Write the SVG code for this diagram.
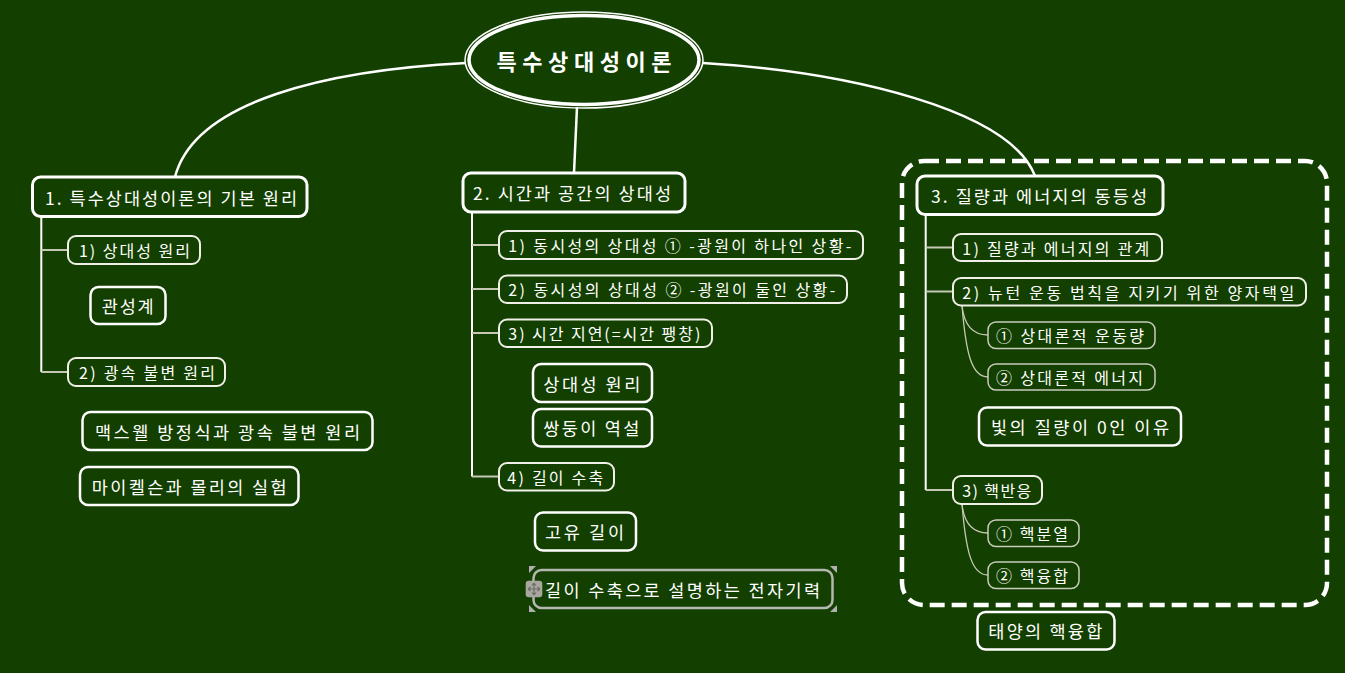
<svg xmlns="http://www.w3.org/2000/svg" width="1345" height="673" viewBox="0 0 1345 673">
<style>
text{font-family:"Noto Sans CJK KR","Noto Sans",sans-serif;fill:#ffffff;dominant-baseline:central}
.t17{font-size:17.5px}
.t15{font-size:16px}
.main{fill:none;stroke:#ffffff;stroke-width:3}
.sub{fill:none;stroke:#f0f0e8;stroke-width:2}
.leaf{fill:none;stroke:#ffffff;stroke-width:2.5}
.item{fill:none;stroke:#c8ccbc;stroke-width:1.5}
.vline{fill:none;stroke:#ffffff;stroke-width:2}
.hline{fill:none;stroke:#c4c8b4;stroke-width:2}
.curve{fill:none;stroke:#c4c8b4;stroke-width:1.3}
.trunk{fill:none;stroke:#ffffff;stroke-width:2.5}
</style>
<rect x="0" y="0" width="1345" height="673" fill="#133f00"/>

<g id="connectors">
<path class="trunk" d="M466,63 C330,70 195,100 175,177"/>
<path class="trunk" d="M577,107 L574,173"/>
<path class="trunk" d="M703,63 C850,72 1010,110 1035,176"/>
<path class="vline" d="M41.3,216 V372"/>
<path class="hline" d="M41.3,250 H68 M41.3,372 H68"/>
<path class="vline" d="M472,212 V476.5"/>
<path class="hline" d="M472,245 H499 M472,289 H499 M472,333 H499 M472,476.5 H499"/>
<path class="vline" d="M925.7,214 V490"/>
<path class="hline" d="M925.7,247.5 H953 M925.7,291.5 H953 M925.7,490 H953"/>
<path class="curve" d="M962,305.5 C964,325 972,335 988,335"/>
<path class="curve" d="M962,305.5 C966,355 972,377 988,377"/>
<path class="curve" d="M962,504 C964,523 972,533 988,533"/>
<path class="curve" d="M962,504 C966,553 972,575 988,575"/>
</g>

<g id="boundary">
<rect x="902" y="161" width="425" height="444" rx="22" fill="none" stroke="#ffffff" stroke-width="4.5" stroke-dasharray="15 7"/>
</g>

<g id="root">
<ellipse cx="584" cy="60" rx="119" ry="48" fill="none" stroke="#ffffff" stroke-width="1.5"/>
<ellipse cx="584" cy="60" rx="115" ry="44.5" fill="#133f00" stroke="#ffffff" stroke-width="3.5"/>
<text x="584" y="60" text-anchor="middle" font-size="22" font-weight="bold" textLength="175" lengthAdjust="spacing">특수상대성이론</text>
</g>

<g id="n1">
<rect class="main" x="32.5" y="177" width="274.5" height="39.5" rx="8"/>
<text class="t17" x="45" y="197" textLength="252" lengthAdjust="spacing">1. 특수상대성이론의 기본 원리</text>
</g>
<g id="n1-1">
<rect class="sub" x="68" y="236" width="132" height="28" rx="8"/>
<text class="t15" x="79" y="250" textLength="111" lengthAdjust="spacing">1) 상대성 원리</text>
</g>
<g id="n1-1a">
<rect class="leaf" x="90.5" y="287" width="75" height="37" rx="8"/>
<text class="t17" x="101.7" y="305.5" textLength="52" lengthAdjust="spacing">관성계</text>
</g>
<g id="n1-2">
<rect class="sub" x="68" y="358" width="157" height="28" rx="8"/>
<text class="t15" x="79" y="372" textLength="136" lengthAdjust="spacing">2) 광속 불변 원리</text>
</g>
<g id="n1-2a">
<rect class="leaf" x="82.5" y="412" width="290" height="38" rx="8"/>
<text class="t17" x="95" y="431" textLength="265" lengthAdjust="spacing">맥스웰 방정식과 광속 불변 원리</text>
</g>
<g id="n1-2b">
<rect class="leaf" x="80" y="467" width="218.5" height="38" rx="8"/>
<text class="t17" x="91.7" y="486" textLength="195" lengthAdjust="spacing">마이켈슨과 몰리의 실험</text>
</g>

<g id="n2">
<rect class="main" x="463" y="173" width="222" height="39" rx="8"/>
<text class="t17" x="473" y="192.5" textLength="198" lengthAdjust="spacing">2. 시간과 공간의 상대성</text>
</g>
<g id="n2-1">
<rect class="sub" x="499" y="231" width="364" height="28" rx="8"/>
<text class="t15" x="508.3" y="245" textLength="343" lengthAdjust="spacing">1) 동시성의 상대성 ① -광원이 하나인 상황-</text>
</g>
<g id="n2-2">
<rect class="sub" x="499" y="275.5" width="348" height="27.5" rx="8"/>
<text class="t15" x="508.3" y="289" textLength="327" lengthAdjust="spacing">2) 동시성의 상대성 ② -광원이 둘인 상황-</text>
</g>
<g id="n2-3">
<rect class="sub" x="499" y="319.5" width="213" height="27.5" rx="8"/>
<text class="t15" x="508.3" y="333" textLength="192" lengthAdjust="spacing">3) 시간 지연(=시간 팽창)</text>
</g>
<g id="n2-3a">
<rect class="leaf" x="533" y="364" width="119" height="38" rx="8"/>
<text class="t17" x="543.3" y="383" textLength="97" lengthAdjust="spacing">상대성 원리</text>
</g>
<g id="n2-3b">
<rect class="leaf" x="533" y="409" width="119" height="37.5" rx="8"/>
<text class="t17" x="543.3" y="427.5" textLength="96" lengthAdjust="spacing">쌍둥이 역설</text>
</g>
<g id="n2-4">
<rect class="sub" x="499" y="463" width="115" height="27.5" rx="8"/>
<text class="t15" x="507.3" y="476.5" textLength="96" lengthAdjust="spacing">4) 길이 수축</text>
</g>
<g id="n2-4a">
<rect class="leaf" x="535" y="512.5" width="101" height="38" rx="8"/>
<text class="t17" x="545" y="531" textLength="79" lengthAdjust="spacing">고유 길이</text>
</g>
<g id="n2-4b">
<rect x="533.5" y="570" width="299" height="38" rx="8" fill="none" stroke="#b4b8b0" stroke-width="2.5"/>
<text class="t17" x="545" y="589" textLength="275" lengthAdjust="spacing">길이 수축으로 설명하는 전자기력</text>
<path d="M529,566 h7 l-7,7 z M837,566 h-7 l7,7 z M529,612 h7 l-7,-7 z M837,612 h-7 l7,-7 z" fill="#b0b0b0"/>
<rect x="525.7" y="580.7" width="16.6" height="16.6" rx="3" fill="#a8a8a0"/>
<path d="M534,583 v12 M528,589 h12 M534,583 l-2,2.5 M534,583 l2,2.5 M534,595 l-2,-2.5 M534,595 l2,-2.5 M528,589 l2.5,-2 M528,589 l2.5,2 M540,589 l-2.5,-2 M540,589 l-2.5,2" stroke="#6c6c68" stroke-width="1.2" fill="none"/>
</g>

<g id="n3">
<rect class="main" x="917" y="176" width="246" height="38.5" rx="8"/>
<text class="t17" x="931" y="195" textLength="216" lengthAdjust="spacing">3. 질량과 에너지의 동등성</text>
</g>
<g id="n3-1">
<rect class="sub" x="953" y="234" width="209" height="27" rx="8"/>
<text class="t15" x="962.3" y="247.5" textLength="187" lengthAdjust="spacing">1) 질량과 에너지의 관계</text>
</g>
<g id="n3-2">
<rect class="sub" x="953" y="278" width="353" height="27.5" rx="8"/>
<text class="t15" x="962.3" y="291.5" textLength="332" lengthAdjust="spacing">2) 뉴턴 운동 법칙을 지키기 위한 양자택일</text>
</g>
<g id="n3-2a">
<rect class="item" x="988" y="322" width="167" height="26.5" rx="8"/>
<text class="t15" x="996" y="335" textLength="148" lengthAdjust="spacing">① 상대론적 운동량</text>
</g>
<g id="n3-2b">
<rect class="item" x="988" y="364" width="167" height="26" rx="8"/>
<text class="t15" x="996" y="377" textLength="147" lengthAdjust="spacing">② 상대론적 에너지</text>
</g>
<g id="n3-2c">
<rect class="leaf" x="979" y="407.5" width="202" height="38" rx="8"/>
<text class="t17" x="991" y="426.5" textLength="178" lengthAdjust="spacing">빛의 질량이 0인 이유</text>
</g>
<g id="n3-3">
<rect class="sub" x="953" y="476" width="89" height="28" rx="8"/>
<text class="t15" x="962.3" y="490" textLength="69" lengthAdjust="spacing">3) 핵반응</text>
</g>
<g id="n3-3a">
<rect class="item" x="988" y="520" width="91" height="26.5" rx="8"/>
<text class="t15" x="996" y="533" textLength="72" lengthAdjust="spacing">① 핵분열</text>
</g>
<g id="n3-3b">
<rect class="item" x="988" y="562" width="91" height="26.5" rx="8"/>
<text class="t15" x="996" y="575" textLength="72" lengthAdjust="spacing">② 핵융합</text>
</g>
<g id="n3-3c">
<rect class="leaf" x="977.5" y="612" width="137" height="37.5" rx="8"/>
<text class="t17" x="988.3" y="630.5" textLength="114" lengthAdjust="spacing">태양의 핵융합</text>
</g>
</svg>
